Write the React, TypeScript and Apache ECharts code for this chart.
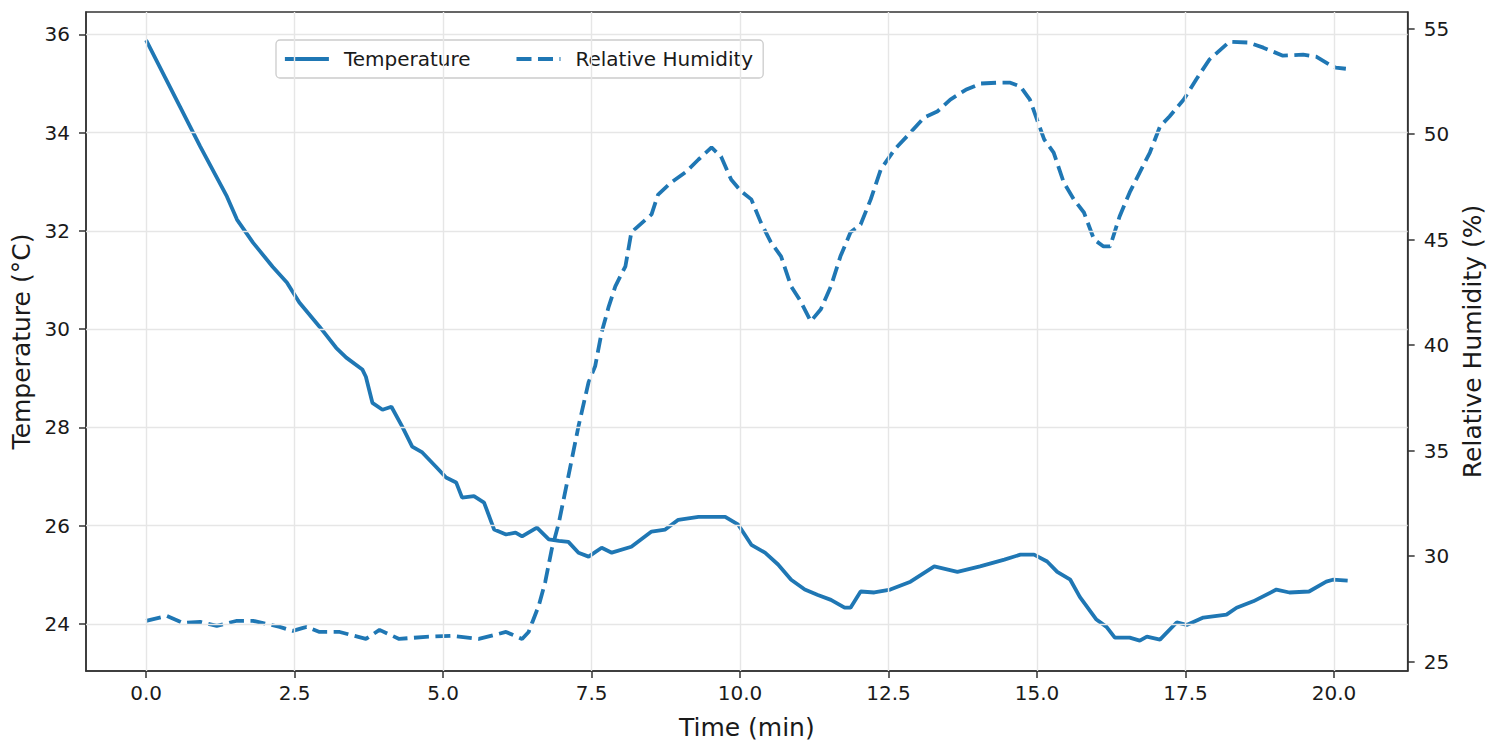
import React, { useEffect, useRef } from "react";
import * as echarts from "echarts";

const tempTime = [0, 0.57, 0.91, 1.36, 1.53, 1.8, 2.13, 2.37, 2.58, 2.92, 3.2, 3.37, 3.64, 3.7, 3.81, 3.98, 4.13, 4.31, 4.48, 4.65, 4.88, 5.05, 5.22, 5.32, 5.52, 5.69, 5.86, 6.06, 6.22, 6.33, 6.58, 6.78, 6.95, 7.11, 7.28, 7.45, 7.67, 7.84, 8.17, 8.51, 8.74, 8.96, 9.3, 9.52, 9.75, 9.97, 10.19, 10.42, 10.64, 10.86, 11.09, 11.31, 11.53, 11.76, 11.86, 12.03, 12.26, 12.53, 12.87, 13.27, 13.66, 14.04, 14.45, 14.72, 14.95, 15.17, 15.34, 15.56, 15.72, 16.0, 16.17, 16.31, 16.56, 16.73, 16.85, 17.07, 17.35, 17.52, 17.8, 18.19, 18.36, 18.64, 19.03, 19.25, 19.58, 19.87, 19.98, 20.23];
const tempVals = [35.88, 34.53, 33.72, 32.7, 32.23, 31.76, 31.27, 30.95, 30.54, 30.05, 29.62, 29.42, 29.18, 29.03, 28.5, 28.36, 28.42, 28.02, 27.61, 27.49, 27.2, 26.98, 26.88, 26.57, 26.6, 26.47, 25.92, 25.82, 25.86, 25.78, 25.96, 25.72, 25.69, 25.67, 25.45, 25.37, 25.55, 25.45, 25.57, 25.88, 25.92, 26.12, 26.18, 26.18, 26.18, 26.02, 25.61, 25.45, 25.21, 24.9, 24.7, 24.59, 24.49, 24.33, 24.33, 24.66, 24.64, 24.7, 24.86, 25.17, 25.06, 25.17, 25.31, 25.41, 25.41, 25.27, 25.06, 24.9, 24.55, 24.09, 23.94, 23.72, 23.72, 23.66, 23.74, 23.68, 24.03, 23.98, 24.13, 24.19, 24.33, 24.46, 24.7, 24.64, 24.66, 24.86, 24.9, 24.88];

const humTime = [0, 0.35, 0.62, 0.91, 1.19, 1.53, 1.8, 2.25, 2.47, 2.7, 2.92, 3.26, 3.7, 3.93, 4.26, 4.71, 5.15, 5.6, 6.06, 6.33, 6.44, 6.61, 6.72, 6.83, 6.95, 7.11, 7.28, 7.45, 7.56, 7.67, 7.79, 7.9, 8.07, 8.17, 8.51, 8.62, 8.84, 9.08, 9.3, 9.52, 9.68, 9.85, 10.02, 10.19, 10.35, 10.52, 10.69, 10.86, 11.02, 11.19, 11.36, 11.53, 11.69, 11.86, 12.03, 12.2, 12.37, 12.6, 12.87, 13.1, 13.32, 13.54, 13.8, 14.05, 14.33, 14.55, 14.72, 14.88, 15.0, 15.12, 15.28, 15.45, 15.62, 15.79, 15.96, 16.12, 16.23, 16.39, 16.56, 16.73, 16.9, 17.07, 17.23, 17.47, 17.68, 17.9, 18.24, 18.57, 18.81, 19.14, 19.48, 19.7, 19.92, 20.03, 20.2];
const humVals = [26.94, 27.17, 26.84, 26.89, 26.7, 26.94, 26.94, 26.65, 26.46, 26.65, 26.41, 26.41, 26.08, 26.51, 26.08, 26.18, 26.23, 26.08, 26.41, 26.08, 26.41, 27.65, 28.78, 30.34, 31.6, 33.8, 36.16, 38.25, 39.0, 40.61, 41.84, 42.79, 43.74, 45.35, 46.2, 47.14, 47.71, 48.19, 48.8, 49.37, 48.94, 47.85, 47.29, 46.91, 45.82, 44.87, 44.21, 42.79, 42.08, 41.13, 41.7, 42.79, 44.21, 45.35, 45.72, 46.91, 48.33, 49.27, 50.08, 50.79, 51.07, 51.64, 52.1, 52.4, 52.44, 52.44, 52.26, 51.64, 50.69, 49.75, 49.13, 47.71, 46.91, 46.29, 45.01, 44.68, 44.68, 46.1, 47.24, 48.19, 49.13, 50.36, 50.84, 51.64, 52.59, 53.53, 54.38, 54.34, 54.1, 53.72, 53.77, 53.67, 53.3, 53.15, 53.1];

const xTicks = [0, 2.5, 5, 7.5, 10, 12.5, 15, 17.5, 20];
const tempTicks = [24, 26, 28, 30, 32, 34, 36];
const humTicks = [25, 30, 35, 40, 45, 50, 55];

const FONT = "DejaVu Sans";
const TXT = "#1a1a1a";
const AX = "#333333";
const BLUE = "#1f77b4";

export default function App() {
  const ref = useRef<HTMLDivElement>(null);
  useEffect(() => {
    if (!ref.current) return;
    const chart = echarts.init(ref.current, null, { renderer: "svg" });
    const tickStyle = { show: true, length: 7, lineStyle: { color: AX, width: 1.5 } };
    const labelBase = { color: TXT, fontSize: 20, fontFamily: FONT, margin: 16 };
    const axisLine = { show: true, onZero: false, lineStyle: { color: AX, width: 1.5 } };
    chart.setOption({
      animation: false,
      textStyle: { fontFamily: FONT },
      grid: {
        left: 86,
        right: 81,
        top: 12,
        bottom: 79,
        show: true,
        borderColor: AX,
        borderWidth: 1.5,
        backgroundColor: "transparent",
      },
      legend: {
        data: ["Temperature", "Relative Humidity"],
        left: 276,
        top: 40,
        padding: [9, 10, 9, 7],
        itemWidth: 44,
        itemHeight: 14,
        itemGap: 44,
        itemStyle: { opacity: 0, borderWidth: 0 },
        lineStyle: { width: 3.8 },
        backgroundColor: "rgba(255,255,255,0.85)",
        borderColor: "#cccccc",
        borderWidth: 1.3,
        borderRadius: 4,
        textStyle: { color: TXT, fontSize: 20, fontFamily: FONT, padding: [0, 0, 0, 10] },
      },
      xAxis: {
        type: "value",
        min: -1.012,
        max: 21.24,
        name: "Time (min)",
        nameLocation: "middle",
        nameGap: 44,
        nameTextStyle: { color: TXT, fontSize: 25, fontFamily: FONT },
        axisLine,
        axisTick: { ...tickStyle, customValues: xTicks },
        axisLabel: { ...labelBase, margin: 12, customValues: xTicks, formatter: (v: number) => v.toFixed(1) },
        splitLine: { show: false },
      },
      yAxis: [
        {
          type: "value",
          min: 23.042,
          max: 36.454,
          position: "left",
          name: "Temperature (°C)",
          nameLocation: "middle",
          nameRotate: 90,
          nameGap: 52,
          nameTextStyle: { color: TXT, fontSize: 25, fontFamily: FONT },
          axisLine,
          axisTick: { ...tickStyle, customValues: tempTicks },
          axisLabel: { ...labelBase, customValues: tempTicks, formatter: (v: number) => String(Math.round(v)) },
          splitLine: { show: false },
        },
        {
          type: "value",
          min: 24.56,
          max: 55.79,
          position: "right",
          name: "Relative Humidity (%)",
          nameLocation: "middle",
          nameRotate: 90,
          nameGap: 52,
          nameTextStyle: { color: TXT, fontSize: 25, fontFamily: FONT },
          axisLine,
          axisTick: { ...tickStyle, customValues: humTicks },
          axisLabel: { ...labelBase, customValues: humTicks, formatter: (v: number) => String(Math.round(v)) },
          splitLine: { show: false },
        },
      ],
      series: [
        {
          name: "grid",
          type: "line",
          xAxisIndex: 0,
          yAxisIndex: 0,
          z: 1,
          data: [[0, 24]],
          symbol: "none",
          lineStyle: { width: 0, opacity: 0 },
          silent: true,
          markLine: {
            silent: true,
            symbol: ["none", "none"],
            label: { show: false },
            emphasis: { disabled: true },
            lineStyle: { color: "#e6e6e6", width: 1.4, type: "solid" },
            data: [
              ...xTicks.map((v) => ({ xAxis: v })),
              ...tempTicks.map((v) => ({ yAxis: v })),
            ],
          },
        },
        {
          name: "Temperature",
          type: "line",
          xAxisIndex: 0,
          yAxisIndex: 0,
          z: 3,
          data: tempTime.map((t, i) => [t, tempVals[i]]),
          symbol: "none",
          showSymbol: false,
          lineStyle: { color: BLUE, width: 3.8 },
          itemStyle: { color: BLUE },
        },
        {
          name: "Relative Humidity",
          type: "line",
          xAxisIndex: 0,
          yAxisIndex: 1,
          z: 3,
          data: humTime.map((t, i) => [t, humVals[i]]),
          symbol: "none",
          showSymbol: false,
          lineStyle: { color: BLUE, width: 3.8, type: [15, 6.5] },
          itemStyle: { color: BLUE },
        },
      ],
    });
    return () => chart.dispose();
  }, []);
  return (
    <div
      ref={ref}
      style={{ position: "absolute", left: 0, top: 0, width: 1493, height: 750, background: "#ffffff" }}
    />
  );
}
